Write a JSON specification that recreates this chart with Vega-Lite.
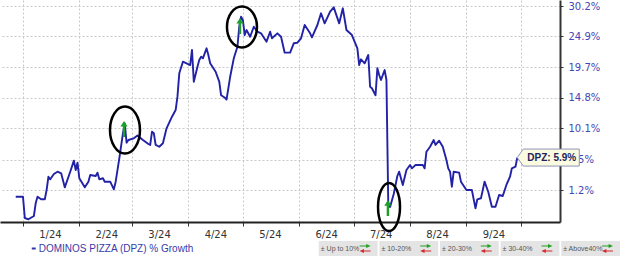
{
  "$schema": "https://vega.github.io/schema/vega-lite/v6.json",
  "padding": 0,
  "background": "white",
  "spacing": 2,
  "config": {"view": {"stroke": null}, "font": "DejaVu Sans"},
  "datasets": {
    "prices": [
      {"date":"2023-12-28","index":100.27},
      {"date":"2024-01-01","index":100.27},
      {"date":"2024-01-02","index":97.39},
      {"date":"2024-01-04","index":97.22},
      {"date":"2024-01-07","index":97.66},
      {"date":"2024-01-08","index":99.41},
      {"date":"2024-01-09","index":100.28},
      {"date":"2024-01-11","index":99.92},
      {"date":"2024-01-13","index":99.92},
      {"date":"2024-01-14","index":101.2},
      {"date":"2024-01-15","index":103.06},
      {"date":"2024-01-16","index":102.69},
      {"date":"2024-01-18","index":103.44},
      {"date":"2024-01-20","index":103.77},
      {"date":"2024-01-22","index":103.54},
      {"date":"2024-01-24","index":101.57},
      {"date":"2024-01-27","index":103.77},
      {"date":"2024-01-29","index":105.35},
      {"date":"2024-01-30","index":104.01},
      {"date":"2024-01-31","index":105.06},
      {"date":"2024-02-01","index":102.84},
      {"date":"2024-02-04","index":101.57},
      {"date":"2024-02-06","index":102.36},
      {"date":"2024-02-07","index":103.30},
      {"date":"2024-02-10","index":103.16},
      {"date":"2024-02-11","index":103.63},
      {"date":"2024-02-12","index":102.69},
      {"date":"2024-02-14","index":102.84},
      {"date":"2024-02-15","index":102.36},
      {"date":"2024-02-18","index":102.36},
      {"date":"2024-02-20","index":101.30},
      {"date":"2024-02-21","index":102.36},
      {"date":"2024-02-23","index":105.69},
      {"date":"2024-02-25","index":109.38},
      {"date":"2024-02-26","index":110.88},
      {"date":"2024-02-27","index":107.98},
      {"date":"2024-02-28","index":108.38},
      {"date":"2024-03-02","index":108.63},
      {"date":"2024-03-04","index":109.05},
      {"date":"2024-03-07","index":108.38},
      {"date":"2024-03-10","index":107.78},
      {"date":"2024-03-11","index":107.64},
      {"date":"2024-03-12","index":109.61},
      {"date":"2024-03-13","index":109.38},
      {"date":"2024-03-14","index":107.64},
      {"date":"2024-03-16","index":107.38},
      {"date":"2024-03-18","index":107.89},
      {"date":"2024-03-20","index":110.13},
      {"date":"2024-03-23","index":111.89},
      {"date":"2024-03-25","index":112.92},
      {"date":"2024-03-26","index":115.0},
      {"date":"2024-03-27","index":118.74},
      {"date":"2024-03-29","index":120.65},
      {"date":"2024-03-31","index":120.38},
      {"date":"2024-04-02","index":120.10},
      {"date":"2024-04-03","index":122.6},
      {"date":"2024-04-04","index":117.39},
      {"date":"2024-04-06","index":119.82},
      {"date":"2024-04-07","index":120.93},
      {"date":"2024-04-08","index":121.48},
      {"date":"2024-04-09","index":121.21},
      {"date":"2024-04-11","index":122.88},
      {"date":"2024-04-12","index":121.76},
      {"date":"2024-04-13","index":120.38},
      {"date":"2024-04-16","index":119.0},
      {"date":"2024-04-18","index":117.39},
      {"date":"2024-04-19","index":115.23},
      {"date":"2024-04-21","index":114.87},
      {"date":"2024-04-22","index":114.55},
      {"date":"2024-04-24","index":118.18},
      {"date":"2024-04-26","index":121.21},
      {"date":"2024-04-28","index":123.15},
      {"date":"2024-04-29","index":126.57},
      {"date":"2024-04-30","index":128.32},
      {"date":"2024-05-01","index":127.74},
      {"date":"2024-05-02","index":125.14},
      {"date":"2024-05-03","index":126.0},
      {"date":"2024-05-05","index":124.85},
      {"date":"2024-05-07","index":126.57},
      {"date":"2024-05-09","index":125.71},
      {"date":"2024-05-11","index":125.43},
      {"date":"2024-05-14","index":124.0},
      {"date":"2024-05-16","index":125.71},
      {"date":"2024-05-17","index":124.58},
      {"date":"2024-05-20","index":125.43},
      {"date":"2024-05-22","index":124.85},
      {"date":"2024-05-24","index":122.15},
      {"date":"2024-05-27","index":122.15},
      {"date":"2024-05-29","index":123.73},
      {"date":"2024-05-31","index":123.83},
      {"date":"2024-06-02","index":124.58},
      {"date":"2024-06-04","index":126.87},
      {"date":"2024-06-07","index":125.43},
      {"date":"2024-06-08","index":124.75},
      {"date":"2024-06-11","index":126.87},
      {"date":"2024-06-13","index":128.92},
      {"date":"2024-06-15","index":127.16},
      {"date":"2024-06-18","index":129.2},
      {"date":"2024-06-20","index":129.98},
      {"date":"2024-06-23","index":127.16},
      {"date":"2024-06-25","index":129.80},
      {"date":"2024-06-27","index":126.0},
      {"date":"2024-06-30","index":125.14},
      {"date":"2024-07-03","index":122.88},
      {"date":"2024-07-04","index":120.10},
      {"date":"2024-07-05","index":121.04},
      {"date":"2024-07-07","index":120.38},
      {"date":"2024-07-09","index":121.76},
      {"date":"2024-07-10","index":116.58},
      {"date":"2024-07-11","index":116.33},
      {"date":"2024-07-13","index":115.23},
      {"date":"2024-07-14","index":119.56},
      {"date":"2024-07-15","index":118.47},
      {"date":"2024-07-16","index":117.66},
      {"date":"2024-07-18","index":119.28},
      {"date":"2024-07-19","index":117.66},
      {"date":"2024-07-20","index":99.37},
      {"date":"2024-07-21","index":98.87},
      {"date":"2024-07-23","index":100.65},
      {"date":"2024-07-25","index":103.16},
      {"date":"2024-07-26","index":103.77},
      {"date":"2024-07-28","index":101.9},
      {"date":"2024-07-30","index":104.01},
      {"date":"2024-08-01","index":104.73},
      {"date":"2024-08-02","index":104.25},
      {"date":"2024-08-04","index":104.73},
      {"date":"2024-08-08","index":104.73},
      {"date":"2024-08-09","index":104.25},
      {"date":"2024-08-10","index":106.65},
      {"date":"2024-08-12","index":107.38},
      {"date":"2024-08-14","index":108.38},
      {"date":"2024-08-15","index":107.64},
      {"date":"2024-08-17","index":108.27},
      {"date":"2024-08-19","index":107.38},
      {"date":"2024-08-21","index":105.45},
      {"date":"2024-08-22","index":104.25},
      {"date":"2024-08-23","index":103.77},
      {"date":"2024-08-24","index":101.66},
      {"date":"2024-08-25","index":103.77},
      {"date":"2024-08-28","index":103.63},
      {"date":"2024-08-29","index":102.36},
      {"date":"2024-09-01","index":101.2},
      {"date":"2024-09-04","index":101.2},
      {"date":"2024-09-06","index":98.69},
      {"date":"2024-09-07","index":99.92},
      {"date":"2024-09-09","index":100.06},
      {"date":"2024-09-11","index":102.36},
      {"date":"2024-09-13","index":100.96},
      {"date":"2024-09-15","index":98.91},
      {"date":"2024-09-17","index":98.91},
      {"date":"2024-09-19","index":100.51},
      {"date":"2024-09-21","index":100.37},
      {"date":"2024-09-23","index":101.9},
      {"date":"2024-09-25","index":103.06},
      {"date":"2024-09-26","index":104.25},
      {"date":"2024-09-28","index":104.48},
      {"date":"2024-09-29","index":105.8}
    ],
    "arrows": [
      {"date":"2024-02-25T14:00:00Z","index":110.02},
      {"date":"2024-04-29T10:00:00Z","index":126.70},
      {"date":"2024-07-19T19:00:00Z","index":98.73}
    ],
    "circles": [
      {"id":"e1","date":"2024-02-26T03:00:00Z","index":109.87},
      {"id":"e2","date":"2024-04-30T12:00:00Z","index":126.52},
      {"id":"e3","date":"2024-07-20T10:00:00Z","index":98.87}
    ],
    "last": [
      {"date":"2024-09-29","index":105.8,"label":"DPZ: 5.9%"}
    ],
    "boxes": [
      {"slot":"b1","label":"± Up to 10%"},
      {"slot":"b2","label":"± 10-20%"},
      {"slot":"b3","label":"± 20-30%"},
      {"slot":"b4","label":"± 30-40%"},
      {"slot":"b5","label":"± Above40%"}
    ],
    "series": [
      {"slot":"s","label":"DOMINOS PIZZA (DPZ) % Growth"}
    ]
  },
  "vconcat": [
    {
      "width": 560,
      "height": 222,
      "encoding": {
        "x": {
          "field": "date",
          "type": "temporal",
          "scale": {
            "type": "utc",
            "domain": [
              {"year":2023,"month":12,"date":19,"hours":8,"minutes":24,"utc":true},
              {"year":2024,"month":10,"date":22,"hours":12,"utc":true}
            ]
          },
          "axis": {
            "title": null,
            "orient": "bottom",
            "tickCount": {"interval": "month", "step": 1},
            "labelExpr": "utcmonth(datum.value) == 9 ? '' : utcFormat(datum.value, '%-m/%y')",
            "labelOffset": 27,
            "labelFlush": false,
            "labelOverlap": false,
            "labelBound": false,
            "labelPadding": 3,
            "labelFont": "DejaVu Sans",
            "labelFontSize": 10,
            "labelColor": "#333333",
            "tickSize": 4,
            "tickColor": "#333333",
            "domainColor": "#222222",
            "domainWidth": 2,
            "grid": true,
            "gridColor": "#c8c8c8",
            "gridDash": [2, 2],
            "gridWidth": 1
          }
        },
        "y": {
          "field": "index",
          "type": "quantitative",
          "scale": {"type": "log", "domain": [96.86, 131.29], "nice": false, "zero": false},
          "axis": {
            "title": null,
            "orient": "right",
            "values": [101.2, 105.5, 110.1, 114.8, 119.7, 124.9, 130.2],
            "labelExpr": "format(datum.value / 100 - 1, '.1%')",
            "labelFont": "DejaVu Sans",
            "labelFontSize": 10,
            "labelColor": "#4646b4",
            "labelPadding": 5,
            "labelBound": false,
            "labelOverlap": false,
            "labelFlush": false,
            "tickSize": 3,
            "tickColor": "#333333",
            "domainColor": "#333333",
            "domainWidth": 2,
            "grid": true,
            "gridColor": "#c8c8c8",
            "gridDash": [2, 2],
            "gridWidth": 1
          }
        }
      },
      "layer": [
        {
          "data": {"name": "prices"},
          "mark": {"type": "line", "color": "#2222a6", "strokeWidth": 1.9, "strokeJoin": "round"}
        },
        {
          "data": {"name": "arrows"},
          "mark": {
            "type": "point",
            "shape": "M 0 -1 L 0.45 -0.3 L 0.15 -0.3 L 0.15 1 L -0.15 1 L -0.15 -0.3 L -0.45 -0.3 Z",
            "filled": true,
            "color": "#1e9e2a",
            "size": 256,
            "opacity": 1
          }
        },
        {
          "data": {"name": "circles"},
          "mark": {"type": "point", "filled": false, "color": "#000000", "strokeWidth": 2.5, "size": 2304, "opacity": 1},
          "encoding": {
            "shape": {
              "field": "id",
              "type": "nominal",
              "scale": {
                "domain": ["e1", "e2", "e3"],
                "range": [
                  "M -0.625 0 A 0.625 0.98 0 1 0 0.625 0 A 0.625 0.98 0 1 0 -0.625 0 Z",
                  "M -0.625 0 A 0.625 0.854 0 1 0 0.625 0 A 0.625 0.854 0 1 0 -0.625 0 Z",
                  "M -0.458 0 A 0.458 1 0 1 0 0.458 0 A 0.458 1 0 1 0 -0.458 0 Z"
                ]
              },
              "legend": null
            }
          }
        },
        {
          "data": {"name": "last"},
          "mark": {
            "type": "point",
            "shape": "M 0 0 L 0.6 -0.85 L 6.2 -0.85 L 6.2 0.85 L 0.6 0.85 Z",
            "filled": true,
            "fill": "#fbfbe2",
            "stroke": "#8e94b5",
            "strokeWidth": 1,
            "size": 400,
            "opacity": 1
          }
        },
        {
          "data": {"name": "last"},
          "mark": {"type": "text", "align": "left", "baseline": "middle", "dx": 10, "font": "Liberation Sans", "fontWeight": "bold", "fontSize": 10, "color": "#23235e"},
          "encoding": {"text": {"field": "label"}}
        }
      ]
    },
    {
      "width": 620,
      "height": 15,
      "layer": [
        {
          "data": {"name": "boxes"},
          "mark": {"type": "rect", "color": "#e4e4e4"},
          "encoding": {
            "x": {"field": "slot", "type": "nominal", "scale": {"type": "band", "domain": ["s","g1","g2","g3","g4","b1","b2","b3","b4","b5"], "paddingInner": 0.03, "paddingOuter": 0.13, "align": 1}, "axis": null}
          }
        },
        {
          "data": {"name": "boxes"},
          "mark": {"type": "text", "align": "left", "baseline": "middle", "dx": 2, "font": "Liberation Sans", "fontSize": 7, "color": "#555555"},
          "encoding": {
            "x": {"field": "slot", "type": "nominal", "bandPosition": 0, "scale": {"type": "band", "domain": ["s","g1","g2","g3","g4","b1","b2","b3","b4","b5"], "paddingInner": 0.03, "paddingOuter": 0.13, "align": 1}, "axis": null},
            "text": {"field": "label"}
          }
        },
        {
          "data": {"name": "boxes"},
          "mark": {
            "type": "point",
            "shape": "M -3 -0.52 L -1.9 -0.52 L -1.9 -0.75 L -1.17 -0.42 L -1.9 -0.09 L -1.9 -0.32 L -3 -0.32 Z",
            "filled": true,
            "color": "#22a022",
            "size": 144,
            "opacity": 1
          },
          "encoding": {
            "x": {"field": "slot", "type": "nominal", "bandPosition": 1, "scale": {"type": "band", "domain": ["s","g1","g2","g3","g4","b1","b2","b3","b4","b5"], "paddingInner": 0.03, "paddingOuter": 0.13, "align": 1}, "axis": null}
          }
        },
        {
          "data": {"name": "boxes"},
          "mark": {
            "type": "point",
            "shape": "M -1.17 0.32 L -2.27 0.32 L -2.27 0.09 L -3 0.42 L -2.27 0.75 L -2.27 0.52 L -1.17 0.52 Z",
            "filled": true,
            "color": "#d42a2a",
            "size": 144,
            "opacity": 1
          },
          "encoding": {
            "x": {"field": "slot", "type": "nominal", "bandPosition": 1, "scale": {"type": "band", "domain": ["s","g1","g2","g3","g4","b1","b2","b3","b4","b5"], "paddingInner": 0.03, "paddingOuter": 0.13, "align": 1}, "axis": null}
          }
        },
        {
          "data": {"name": "series"},
          "mark": {
            "type": "point",
            "shape": "M 4 -0.25 L 5 -0.25 L 5 0.25 L 4 0.25 Z",
            "filled": true,
            "color": "#3535a8",
            "size": 64,
            "opacity": 1
          },
          "encoding": {
            "x": {"field": "slot", "type": "nominal", "bandPosition": 0, "scale": {"type": "band", "domain": ["s","g1","g2","g3","g4","b1","b2","b3","b4","b5"], "paddingInner": 0.03, "paddingOuter": 0.13, "align": 1}, "axis": null}
          }
        },
        {
          "data": {"name": "series"},
          "mark": {"type": "text", "align": "left", "baseline": "middle", "dx": 23, "font": "Liberation Sans", "fontSize": 10, "color": "#3a3aa8"},
          "encoding": {
            "x": {"field": "slot", "type": "nominal", "bandPosition": 0, "scale": {"type": "band", "domain": ["s","g1","g2","g3","g4","b1","b2","b3","b4","b5"], "paddingInner": 0.03, "paddingOuter": 0.13, "align": 1}, "axis": null},
            "text": {"field": "label"}
          }
        }
      ]
    }
  ]
}
